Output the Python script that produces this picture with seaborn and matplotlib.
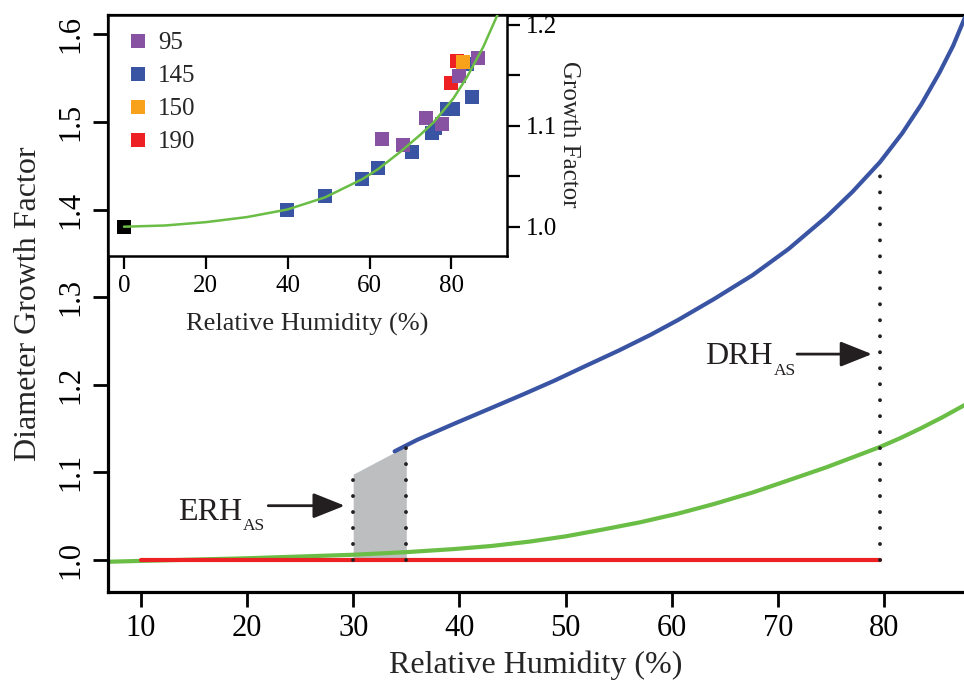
import numpy as np
import pandas as pd
import matplotlib
matplotlib.use("Agg")
import matplotlib.pyplot as plt
from matplotlib.lines import Line2D
import seaborn as sns

sns.set_style("ticks")
plt.rcParams["font.family"] = ["Liberation Serif", "DejaVu Serif"]

# ---------------- data ----------------
# main panel: green curve (growth factor, continuous hygroscopic growth)
green_rh = [6.9, 10, 15, 20, 25, 30, 32.5, 35, 39.5, 43, 46.6, 50, 53.6, 57,
            60.6, 64, 67.6, 71, 74.6, 77, 79.6, 81.5, 83.4, 85.5, 87.6]
green_gf = [0.998, 0.999, 1.0005, 1.002, 1.004, 1.006, 1.0075, 1.009, 1.0125, 1.016,
            1.021, 1.027, 1.035, 1.043, 1.053, 1.064, 1.077, 1.091, 1.106, 1.117,
            1.129, 1.139, 1.150, 1.163, 1.177]
# main panel: blue curve (deliquesced branch)
blue_rh = [33.9, 36, 39.5, 43, 46, 49, 51.8, 55, 58, 60.6, 64, 67.6, 71, 74.6,
           77, 79.6, 81.7, 83.5, 85.2, 86.5, 87.6]
blue_gf = [1.124, 1.137, 1.1555, 1.1735, 1.189, 1.205, 1.221, 1.239, 1.257, 1.274,
           1.298, 1.325, 1.355, 1.392, 1.420, 1.454, 1.487, 1.520, 1.556, 1.587, 1.619]
# main panel: red curve (dry, no growth)
red_rh = [10, 79.6]
red_gf = [1.0, 1.0]
# efflorescence range (shaded) and deliquescence point
erh_rh = [30, 35]
erh_top = [1.098, 1.130]
drh_rh = 79.6
drh_top = 1.450

# inset: measured growth factors by dry diameter (nm)
sizes = ["95", "145", "150", "190"]
size_colors = ["#8652A1", "#3A54A4", "#F8A21C", "#ED2024"]
rh_145 = [39.9, 49.1, 58.2, 62.1, 70.4, 75.3, 76.0, 78.9, 80.5, 85.0, 83.8]
gf_145 = [1.017, 1.030, 1.047, 1.058, 1.074, 1.093, 1.098, 1.117, 1.117, 1.128, 1.161]
rh_190 = [79.9, 81.3]
gf_190 = [1.142, 1.164]
rh_150 = [82.9]
gf_150 = [1.163]
rh_95 = [63.1, 68.2, 73.8, 77.7, 81.8, 86.5]
gf_95 = [1.087, 1.081, 1.108, 1.102, 1.149, 1.167]
dry_rh = [0.0]
dry_gf = [1.0]
# inset: fitted curve
fit_rh = [0, 10, 20, 30, 39.9, 49.1, 58.2, 62.1, 67.5, 72.4, 75.6, 80.5, 83.8, 87.8, 91.3]
fit_gf = [1.0, 1.0012, 1.0045, 1.0095, 1.017, 1.029, 1.047, 1.057, 1.074, 1.091, 1.103,
          1.127, 1.148, 1.178, 1.210]

main_xticks = [10, 20, 30, 40, 50, 60, 70, 80]
main_yticks = [1.0, 1.1, 1.2, 1.3, 1.4, 1.5, 1.6]
inset_xticks = [0, 20, 40, 60, 80]
inset_yticks = [1.0, 1.05, 1.1, 1.15, 1.2]
inset_yticklabels = ["1.0", "", "1.1", "", "1.2"]

GREEN = "#6ABD45"
BLUE = "#3A54A4"
RED = "#ED2024"
GRAY = "#BCBEC0"
INK = "#231F20"

W, H = 964, 688
fig = plt.figure(figsize=(W / 100, H / 100), dpi=100)

# ---------------- main axes ----------------
L, R_, T, B = 108, 964, 15, 592
ax = fig.add_axes([L / W, 1 - B / H, (R_ - L) / W, (B - T) / H])
ax.fill_between(erh_rh, [1.0, 1.0], erh_top, color=GRAY, lw=0, zorder=1)
sns.lineplot(x=green_rh, y=green_gf, ax=ax, color=GREEN, lw=3.0, sort=False,
             estimator=None, zorder=2)
sns.lineplot(x=red_rh, y=red_gf, ax=ax, color=RED, lw=3.0, sort=False,
             estimator=None, zorder=3)
sns.lineplot(x=blue_rh, y=blue_gf, ax=ax, color=BLUE, lw=3.0, sort=False,
             estimator=None, zorder=3)
dot_style = dict(color=INK, lw=2.8, linestyle=(0, (0.01, 4.1)),
                 dash_capstyle="round", zorder=4)
ax.plot([erh_rh[0], erh_rh[0]], [1.0, erh_top[0]], **dot_style)
ax.plot([erh_rh[1], erh_rh[1]], [1.0, erh_top[1]], **dot_style)
ax.plot([drh_rh, drh_rh], [1.0, drh_top], **dot_style)

ax.set_xlim(6.91, 87.52)
ax.set_ylim(0.9635, 1.622)
ax.set_xticks(main_xticks)
ax.set_xticklabels([str(v) for v in main_xticks])
ax.set_yticks(main_yticks)
ax.set_yticklabels([f"{v:.1f}" for v in main_yticks], rotation=90, va="center")
ax.tick_params(axis="both", direction="out", length=11, width=2.0,
               labelsize=22, colors="black", pad=5)
for s in ["left", "bottom", "top"]:
    ax.spines[s].set_linewidth(2.3)
    ax.spines[s].set_color("black")
ax.spines["right"].set_visible(False)
ax.set_xlabel("Relative Humidity (%)", fontsize=23)
ax.set_ylabel("Diameter Growth Factor", fontsize=23)
ax.xaxis.set_label_coords(0.5, -0.101)
ax.yaxis.set_label_coords(-0.076, 0.5)

arrow_kw = dict(arrowstyle="-|>,head_length=0.75,head_width=0.3", color=INK,
                lw=2.0, shrinkA=0, shrinkB=0, mutation_scale=26)
ax.annotate("", xy=(29.2, 1.062), xytext=(22.0, 1.062), arrowprops=arrow_kw, zorder=5)
ax.text(19.55, 1.0458, "ERH", fontsize=23, ha="right", va="baseline", color=INK)
ax.text(19.6, 1.0344, "AS", fontsize=12.5, ha="left", va="baseline", color=INK)
ax.annotate("", xy=(78.85, 1.235), xytext=(71.8, 1.235), arrowprops=arrow_kw, zorder=5)
ax.text(69.55, 1.2234, "DRH", fontsize=23, ha="right", va="baseline", color=INK)
ax.text(69.6, 1.2108, "AS", fontsize=12.5, ha="left", va="baseline", color=INK)

# ---------------- inset ----------------
iL, iR, iT, iB = 108, 507, 15, 256
ins = fig.add_axes([iL / W, 1 - iB / H, (iR - iL) / W, (iB - iT) / H], zorder=10)
ins.set_facecolor("white")

frames = []
for lab, rr, gg in [("145", rh_145, gf_145), ("190", rh_190, gf_190),
                    ("150", rh_150, gf_150), ("95", rh_95, gf_95)]:
    frames.append(pd.DataFrame({"rh": rr, "gf": gg, "size": lab}))
pts = pd.concat(frames, ignore_index=True)
palette = dict(zip(sizes, size_colors))
sns.scatterplot(x=dry_rh, y=dry_gf, ax=ins, color="black", marker="s", s=105,
                linewidth=0, zorder=2, legend=False)
for lab in ["145", "190", "150", "95"]:
    sub = pts[pts["size"] == lab]
    sns.scatterplot(data=sub, x="rh", y="gf", ax=ins, color=palette[lab], marker="s",
                    s=105, linewidth=0, zorder=2, legend=False)
sns.lineplot(x=fit_rh, y=fit_gf, ax=ins, color=GREEN, lw=1.8, sort=False,
             estimator=None, zorder=3)

ins.set_xlim(-3.91, 93.6)
ins.set_ylim(0.971, 1.2096)
ins.set_xticks(inset_xticks)
ins.set_xticklabels([str(v) for v in inset_xticks])
ins.yaxis.tick_right()
ins.set_yticks(inset_yticks)
ins.set_yticklabels(inset_yticklabels)
ins.tick_params(axis="both", direction="out", length=9.5, width=1.6,
                labelsize=18, colors="black", pad=4)
for s in ins.spines.values():
    s.set_linewidth(1.8)
    s.set_color("black")
ins.set_xlabel("Relative Humidity (%)", fontsize=19)
ins.xaxis.set_label_coords(0.5, -0.235)
ins.set_ylabel("Growth Factor", fontsize=18, rotation=270, ha="center", va="center")
ins.yaxis.set_label_position("right")
ins.yaxis.set_label_coords(1.182, 0.506)

handles = [Line2D([0], [0], marker="s", linestyle="none", markersize=10.2,
                  markerfacecolor=c, markeredgewidth=0) for c in size_colors]
ins.legend(handles, sizes, loc="upper left", bbox_to_anchor=(0.044, 0.93),
           frameon=False, fontsize=18, handlelength=1.0, handletextpad=0.3,
           borderpad=0, borderaxespad=0, labelspacing=0.42)

fig.savefig("out.png", dpi=100)
